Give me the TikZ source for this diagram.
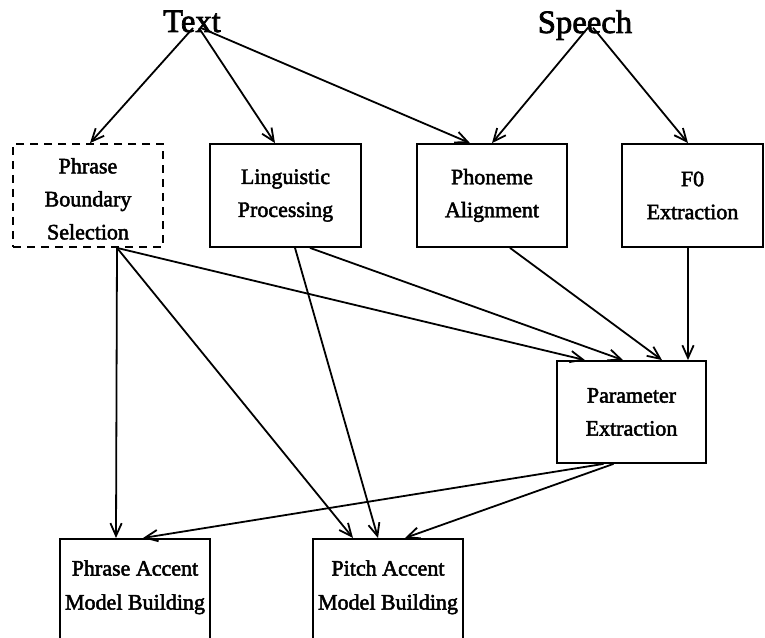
\documentclass[tikz,border=0pt]{standalone}
\usepackage{fontspec}
\setmainfont[FakeBold=2.2]{Liberation Serif}
\usetikzlibrary{arrows.meta}
\begin{document}
\begin{tikzpicture}[x=0.75pt,y=-0.75pt,
  stage/.style={draw,line width=1.35pt,minimum width=150*0.75pt,minimum height=103*0.75pt,
    align=center,inner sep=0pt,font=\fontsize{16.5}{24.75}\selectfont},
  maybestage/.style={stage,dashed,dash pattern=on 6pt off 4.5pt},
  label/.style={font=\fontsize{16.5}{25.5}\selectfont,align=center,inner sep=0pt},
  source/.style={inner sep=0pt,font=\fontsize{24.5}{28}\selectfont},
  flow/.style={line width=1.35pt,-{Straight Barb[length=9.5pt,width=8.5pt,line width=1.35pt]}}]
\useasboundingbox (0,0) rectangle (765,638);
\clip (0,0) rectangle (765,638);

% inputs
\node[source,anchor=base] (txt) at (192,32) {Text};
\node[source,anchor=base] (sp) at (585,33) {Speech};

% processing stages
\node[maybestage] (pbs) at (88,195.5) {};
\node[label,font=\fontsize{16.5}{24.75}\selectfont] (pbslabel) at ([yshift=-2.5pt]pbs.center) {Phrase\\Boundary\\Selection};
\node[stage,minimum width=151*0.75pt] (ling) at (285.5,195.5) {Linguistic\\Processing};
\node[stage] (phon) at (492,195.5) {Phoneme\\Alignment};
\node[stage,minimum width=141*0.75pt] (f0) at (692.5,195.5) {F0\\Extraction};
\node[stage,minimum width=149*0.75pt,minimum height=102*0.75pt] (par) at (631.5,412) {Parameter\\Extraction};

% model building (boxes run past the lower edge)
\node[stage,anchor=north,minimum height=110*0.75pt] (phm) at (135,538) {};
\node[stage,anchor=north,minimum height=110*0.75pt] (pim) at (388,538) {};
\node[label,anchor=north] (phmlabel) at ([yshift=-16.5pt]phm.north) {Phrase Accent\\Model Building};
\node[label,anchor=north] (pimlabel) at ([yshift=-16.5pt]pim.north) {Pitch Accent\\Model Building};

% connectors from the inputs
\draw[flow] ([xshift=1*0.75pt,yshift=3pt]txt.base) -- ([xshift=2*0.75pt]pbs.north);
\draw[flow] ([xshift=7*0.75pt,yshift=3pt]txt.base) -- ([xshift=-10.5*0.75pt]ling.north);
\draw[flow] ([xshift=9*0.75pt,yshift=3pt]txt.base) -- ([xshift=-22*0.75pt]phon.north);
\draw[flow] ([xshift=3*0.75pt,yshift=4pt]sp.base) -- (phon.north);
\draw[flow] ([xshift=8*0.75pt,yshift=4pt]sp.base) -- ([xshift=-4.5*0.75pt]f0.north);

% connectors into parameter extraction
\draw[flow] ([xshift=29*0.75pt]pbs.south) -- ([xshift=-46.5*0.75pt]par.north);
\draw[flow] ([xshift=24.5*0.75pt]ling.south) -- ([xshift=-8.5*0.75pt]par.north);
\draw[flow] ([xshift=18*0.75pt]phon.south) -- ([xshift=30.5*0.75pt]par.north);
\draw[flow] ([xshift=-4.5*0.75pt]f0.south) -- ([xshift=56.5*0.75pt]par.north);

% connectors into model building
\draw[flow] ([xshift=29*0.75pt]pbs.south) -- ([xshift=-19*0.75pt]phm.north);
\draw[flow] ([xshift=29*0.75pt]pbs.south) -- ([xshift=-35*0.75pt]pim.north);
\draw[flow] ([xshift=9.5*0.75pt]ling.south) -- ([xshift=-10*0.75pt]pim.north);
\draw[flow] ([xshift=-28*0.75pt]par.south) -- ([xshift=8*0.75pt]phm.north);
\draw[flow] ([xshift=-18*0.75pt]par.south) -- ([xshift=17*0.75pt]pim.north);
\end{tikzpicture}
\end{document}
